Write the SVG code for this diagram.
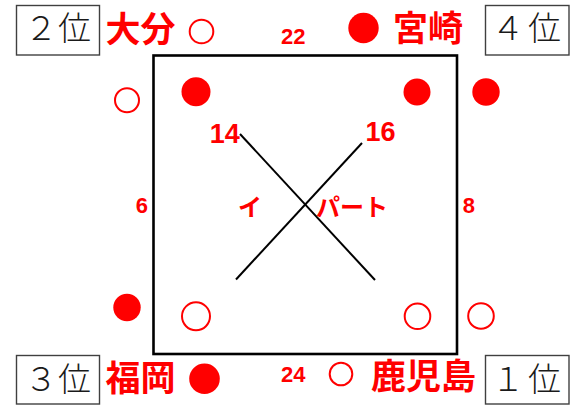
<svg xmlns="http://www.w3.org/2000/svg" width="573" height="405" viewBox="0 0 573 405">
<style>
.rank{fill:#fff;stroke:#404040;stroke-width:1.4}
.rt{font-family:"Noto Sans CJK JP","Noto Sans",sans-serif;font-size:33px;font-weight:300;fill:#1a1a1a}
.pref{font-family:"Noto Sans CJK JP","Noto Sans",sans-serif;font-size:35px;font-weight:700;fill:#ff0000}
.num{font-family:"Liberation Sans",Arial,sans-serif;font-weight:700;fill:#ff0000;text-anchor:middle}
.kana{font-family:"Noto Sans CJK JP","Noto Sans",sans-serif;font-size:24px;font-weight:700;fill:#ff0000}
.on{fill:#ff0000}
.off{fill:#fff;stroke:#ff0000;stroke-width:2}
.edge{stroke:#000;stroke-width:2;fill:none}
</style>
<rect width="573" height="405" fill="#fff"/>
<g id="frame"><rect x="153.5" y="55.5" width="303.5" height="298.5" fill="none" stroke="#000" stroke-width="2.6"/></g>
<g id="connectors">
<line class="edge" x1="240" y1="134" x2="375" y2="280"/>
<line class="edge" x1="362" y1="143" x2="236" y2="279.5"/>
</g>
<g id="rank2"><rect class="rank" x="16.5" y="5.5" width="83" height="49.5"/><text class="rt" x="24.5 58" y="40">２位</text></g>
<g id="rank4"><rect class="rank" x="485.5" y="5.5" width="83.5" height="49.5"/><text class="rt" x="491.5 528" y="40">４位</text></g>
<g id="rank3"><rect class="rank" x="16.5" y="355.5" width="83" height="48.5"/><text class="rt" x="24.5 58" y="391">３位</text></g>
<g id="rank1"><rect class="rank" x="485.5" y="355.5" width="83.5" height="48.5"/><text class="rt" x="491.5 528" y="391">１位</text></g>
<g id="oita"><text class="pref" x="105.5" y="42">大分</text><circle class="off" cx="201.5" cy="31.5" r="11.8" stroke-width="1.6"/></g>
<g id="miyazaki"><circle class="on" cx="363.5" cy="28" r="15.2"/><text class="pref" x="393" y="41">宮崎</text></g>
<g id="fukuoka"><text class="pref" x="105.5" y="390.5">福岡</text><circle class="on" cx="204.5" cy="378.7" r="15.3"/></g>
<g id="kagoshima"><circle class="off" cx="341" cy="374" r="11.3" stroke-width="3"/><text class="pref" x="371" y="389">鹿児島</text></g>
<g id="dots">
<circle class="off" cx="127" cy="100.3" r="12"/>
<circle class="on" cx="196" cy="91.7" r="14.5"/>
<circle class="on" cx="417" cy="92" r="13.5"/>
<circle class="on" cx="486" cy="92" r="13.7"/>
<circle class="on" cx="127" cy="307.5" r="13.7"/>
<circle class="off" cx="196" cy="316.3" r="14"/>
<circle class="off" cx="417.5" cy="316.3" r="12.8"/>
<circle class="off" cx="481" cy="316" r="12.8"/>
</g>
<g id="labels">
<text class="num" x="293.3" y="44" font-size="22">22</text>
<text class="num" x="293.3" y="382" font-size="22">24</text>
<text class="num" x="224.7" y="142.7" font-size="27">14</text>
<text class="num" x="380.5" y="140.7" font-size="27">16</text>
<text class="num" x="141.8" y="212.5" font-size="22">6</text>
<text class="num" x="468.8" y="212.5" font-size="22">8</text>
<text class="kana" x="238" y="216">イ</text>
<text class="kana" x="316" y="216">パート</text>
</g>
</svg>
